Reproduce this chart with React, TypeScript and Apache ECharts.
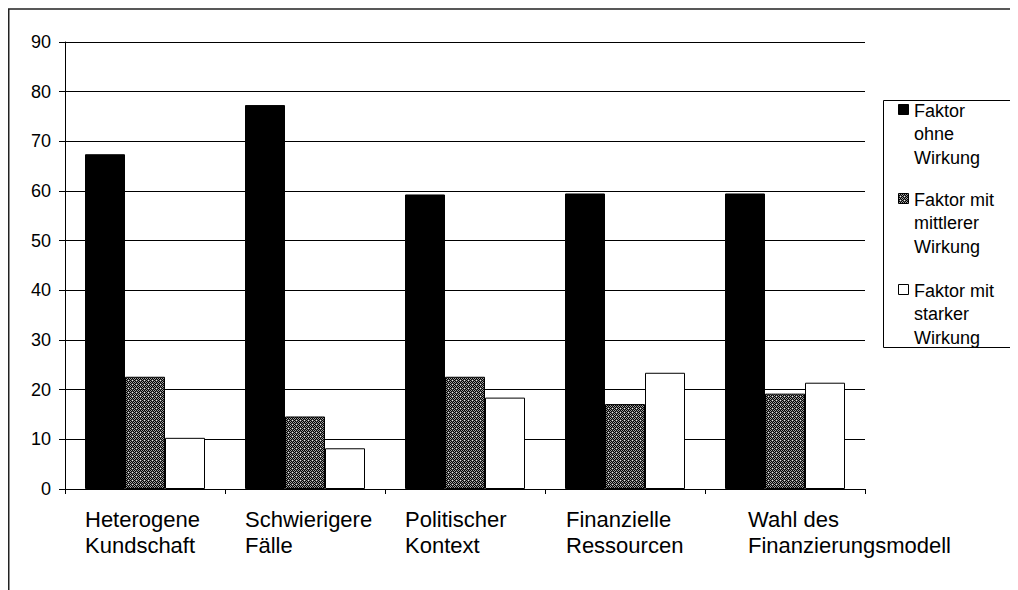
import React, { useEffect, useRef } from "react";
import * as echarts from "echarts";

const categories = [
  "Heterogene\nKundschaft",
  "Schwierigere\nFälle",
  "Politischer\nKontext",
  "Finanzielle\nRessourcen",
  "Wahl des\nFinanzierungsmodell",
];
const seriesNames = [
  "Faktor ohne Wirkung",
  "Faktor mit mittlerer Wirkung",
  "Faktor mit starker Wirkung",
];
const legendLabels = [
  "Faktor\nohne\nWirkung",
  "Faktor mit\nmittlerer\nWirkung",
  "Faktor mit\nstarker\nWirkung",
];
const ohneWirkung = [67.4, 77.3, 59.3, 59.5, 59.5];
const mittlereWirkung = [22.6, 14.6, 22.6, 17.1, 19.2];
const starkeWirkung = [10.3, 8.2, 18.4, 23.4, 21.4];
const yTicks = { min: 0, max: 90, interval: 10 };

const FONT = '"Liberation Sans", Arial, sans-serif';

function makeHatch(): HTMLCanvasElement {
  const c = document.createElement("canvas");
  c.width = 4;
  c.height = 4;
  const ctx = c.getContext("2d")!;
  const L = "#e6e6e6", D = "#5a5a5a", K = "#000000", G = "#a0a0a0";
  const rows = [
    [L, D, K, D],
    [D, K, G, K],
    [K, G, K, G],
    [D, K, G, K],
  ];
  rows.forEach((r, y) =>
    r.forEach((col, x) => {
      ctx.fillStyle = col;
      ctx.fillRect(x, y, 1, 1);
    })
  );
  return c;
}

export default function App() {
  const ref = useRef<HTMLDivElement>(null);
  useEffect(() => {
    if (!ref.current) return;
    document.documentElement.style.overflow = "hidden";
    document.body.style.overflow = "hidden";
    const chart = echarts.init(ref.current, undefined, { renderer: "svg" });
    const hatch = { image: makeHatch(), repeat: "repeat" } as any;
    const fills = ["#000000", hatch, "#ffffff"];
    const data = [ohneWirkung, mittlereWirkung, starkeWirkung];
    const labelWidths = [120, 120, 120, 118, 74];
    const rich: any = {};
    labelWidths.forEach((w, i) => {
      rich["c" + i] = {
        width: w,
        align: "left",
        fontSize: 22,
        lineHeight: 26,
        fontFamily: FONT,
        color: "#000",
      };
    });

    const legendTops = [91, 180, 271];
    const legendGraphics: any[] = [
      {
        type: "rect",
        shape: { x: 875.5, y: 92.5, width: 300, height: 247 },
        style: { fill: "#fff", stroke: "#000", lineWidth: 1 },
        z: 10,
      },
    ];
    legendLabels.forEach((t, i) => {
      legendGraphics.push({
        type: "rect",
        shape: { x: 890.5, y: legendTops[i] + 5.5, width: 10, height: 10 },
        style: { fill: fills[i], stroke: "#000", lineWidth: 1 },
        z: 11,
      });
      legendGraphics.push({
        type: "text",
        x: 906,
        y: legendTops[i],
        style: {
          text: t,
          fill: "#000",
          fontSize: 18,
          fontFamily: FONT,
          lineHeight: 23.5,
          verticalAlign: "top",
        },
        z: 11,
      });
    });

    chart.setOption({
      animation: false,
      backgroundColor: "#fff",
      grid: { left: 57, right: 243, top: 34, bottom: 101, containLabel: false },
      xAxis: {
        type: "category",
        data: categories,
        axisLine: { show: true, lineStyle: { color: "#000", width: 1 } },
        axisTick: { show: true, length: 5, lineStyle: { color: "#000" } },
        axisLabel: {
          interval: 0,
          margin: 17,
          formatter: (v: string, i: number) =>
            v
              .split("\n")
              .map((l) => `{c${i}|${l}}`)
              .join("\n"),
          rich,
        },
        splitLine: { show: false },
      },
      yAxis: {
        type: "value",
        min: yTicks.min,
        max: yTicks.max,
        interval: yTicks.interval,
        axisLine: { show: true, lineStyle: { color: "#000", width: 1 } },
        axisTick: { show: true, length: 6, lineStyle: { color: "#000" } },
        axisLabel: {
          margin: 14,
          fontSize: 18,
          fontFamily: FONT,
          color: "#000",
        },
        splitLine: { show: true, lineStyle: { color: "#000", width: 1 } },
      },
      series: seriesNames.map((name, i) => ({
        name,
        type: "bar",
        data: data[i],
        barCategoryGap: "25%",
        barGap: "0%",
        itemStyle: { color: fills[i], borderColor: "#000", borderWidth: 1 },
      })),
      graphic: [
        {
          type: "rect",
          shape: { x: 0.75, y: 1, width: 2000, height: 2000 },
          style: { fill: "none", stroke: "#222", lineWidth: 1.5 },
          z: 20,
          silent: true,
        },
        ...legendGraphics,
      ],
    });
    return () => chart.dispose();
  }, []);
  return <div ref={ref} style={{ width: 1100, height: 582 }} />;
}
